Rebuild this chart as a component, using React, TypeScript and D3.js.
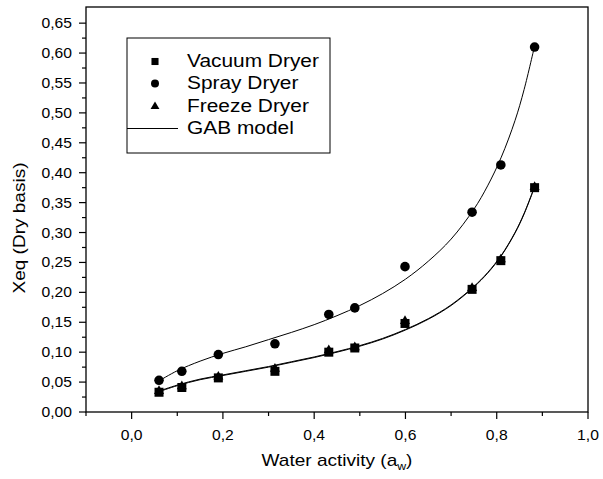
import React from "react";
import * as d3 from "d3";

// Measured data (water activity vs equilibrium moisture content)
const aw = [0.060, 0.110, 0.190, 0.314, 0.432, 0.489, 0.599, 0.746, 0.809, 0.883];
const vacuum = [0.033, 0.041, 0.057, 0.068, 0.100, 0.107, 0.148, 0.205, 0.253, 0.375];
const spray = [0.053, 0.068, 0.096, 0.114, 0.163, 0.174, 0.243, 0.334, 0.413, 0.610];
const freeze = [0.035, 0.043, 0.059, 0.072, 0.103, 0.108, 0.152, 0.207, 0.255, 0.376];

// GAB model curves
const gabAw = [0.06, 0.10, 0.15, 0.20, 0.25, 0.30, 0.35, 0.40, 0.45, 0.50, 0.55, 0.60, 0.65, 0.70, 0.75, 0.78, 0.81, 0.84, 0.86, 0.883];
const gabSpray = [0.052, 0.069, 0.085, 0.098, 0.109, 0.121, 0.133, 0.146, 0.161, 0.178, 0.198, 0.222, 0.252, 0.289, 0.339, 0.378, 0.426, 0.487, 0.539, 0.612];
const gabVacuum = [0.034, 0.044, 0.054, 0.061, 0.068, 0.075, 0.083, 0.091, 0.100, 0.110, 0.122, 0.137, 0.155, 0.178, 0.209, 0.232, 0.261, 0.299, 0.331, 0.376];
const gabFreeze = [0.035, 0.045, 0.055, 0.062, 0.069, 0.076, 0.084, 0.092, 0.101, 0.111, 0.123, 0.138, 0.156, 0.179, 0.210, 0.233, 0.262, 0.300, 0.332, 0.377];

const xMajor = [0.0, 0.2, 0.4, 0.6, 0.8, 1.0];
const xMinor = [-0.1, 0.1, 0.3, 0.5, 0.7, 0.9];
const yMajor = [0, 0.05, 0.1, 0.15, 0.2, 0.25, 0.3, 0.35, 0.4, 0.45, 0.5, 0.55, 0.6, 0.65];
const yMinor = [0.025, 0.075, 0.125, 0.175, 0.225, 0.275, 0.325, 0.375, 0.425, 0.475, 0.525, 0.575, 0.625];

const legendLabels = ["Vacuum Dryer", "Spray Dryer", "Freeze Dryer", "GAB model"];

const FONT = "'Liberation Sans', Arial, sans-serif";

function T({ x, y, size, anchor = "start", rotate = 0, sx = 1.12, children }: any) {
  const tr = `translate(${x},${y})${rotate ? ` rotate(${rotate})` : ""} scale(${sx},1)`;
  return (
    <text transform={tr} fontSize={size} fontFamily={FONT} textAnchor={anchor} fill="#000">
      {children}
    </text>
  );
}

export default function App() {
  const L = 86, R = 588, Tp = 7, B = 412;
  const x = d3.scaleLinear().domain([-0.1, 1.0]).range([L, R]);
  const y = d3.scaleLinear().domain([0, 0.677]).range([B, Tp]);
  const fmt = (v: number, d: number) => d3.format(`.${d}f`)(v).replace(".", ",");

  const line = d3
    .line<[number, number]>()
    .x((d) => x(d[0]))
    .y((d) => y(d[1]))
    .curve(d3.curveCatmullRom.alpha(0.5));

  const sq = d3.symbol().type(d3.symbolSquare).size(81)()!;
  const ci = d3.symbol().type(d3.symbolCircle).size(72)()!;
  const tr = d3.symbol().type(d3.symbolTriangle).size(44)()!;
  const sqL = d3.symbol().type(d3.symbolSquare).size(50)()!;
  const ciL = d3.symbol().type(d3.symbolCircle).size(50)()!;
  const trL = d3.symbol().type(d3.symbolTriangle).size(34)()!;

  const curves = [gabSpray, gabVacuum, gabFreeze].map((s) =>
    line(gabAw.map((a, i) => [a, s[i]] as [number, number]))
  );

  const legendRows = [67, 89, 111.5, 134];

  return (
    <svg width={603} height={479} style={{ position: "absolute", left: 0, top: 0, background: "#fff" }}>
      <rect x={0} y={0} width={603} height={479} fill="#fff" />
      {/* frame */}
      <rect x={L} y={Tp} width={R - L} height={B - Tp} fill="none" stroke="#000" strokeWidth={1.3} />
      {/* y ticks */}
      {yMajor.map((v) => (
        <g key={"ym" + v}>
          <line x1={L - 7} x2={L} y1={y(v)} y2={y(v)} stroke="#000" strokeWidth={1.2} />
          <T x={72} y={y(v) + 5} size={14} anchor="end">{fmt(v, 2)}</T>
        </g>
      ))}
      {yMinor.map((v) => (
        <line key={"yn" + v} x1={L - 4} x2={L} y1={y(v)} y2={y(v)} stroke="#000" strokeWidth={1.2} />
      ))}
      {/* x ticks */}
      {xMajor.map((v) => (
        <g key={"xm" + v}>
          <line x1={x(v)} x2={x(v)} y1={B} y2={B + 7} stroke="#000" strokeWidth={1.2} />
          <T x={x(v)} y={439.5} size={14} anchor="middle">{fmt(v, 1)}</T>
        </g>
      ))}
      {xMinor.map((v) => (
        <line key={"xn" + v} x1={x(v)} x2={x(v)} y1={B} y2={B + 4} stroke="#000" strokeWidth={1.2} />
      ))}
      {/* axis titles */}
      <T x={(L + R) / 2} y={466} size={17} anchor="middle">
        Water activity (a<tspan fontSize={11} dy={4}>w</tspan><tspan dy={-4}>)</tspan>
      </T>
      <T x={25} y={228} size={17} anchor="middle" rotate={-90}>Xeq (Dry basis)</T>

      {/* GAB curves */}
      {curves.map((d, i) => (
        <path key={"c" + i} d={d!} fill="none" stroke="#000" strokeWidth={1} />
      ))}

      {/* points */}
      {aw.map((a, i) => (
        <path key={"s" + i} d={sq} transform={`translate(${x(a)},${y(vacuum[i])})`} fill="#000" />
      ))}
      {aw.map((a, i) => (
        <path key={"t" + i} d={tr} transform={`translate(${x(a)},${y(freeze[i])})`} fill="#000" />
      ))}
      {aw.map((a, i) => (
        <path key={"c" + i} d={ci} transform={`translate(${x(a)},${y(spray[i])})`} fill="#000" />
      ))}

      {/* legend */}
      <rect x={127} y={38} width={203} height={115} fill="#fff" stroke="#000" strokeWidth={1} />
      <path d={sqL} transform={`translate(155,${legendRows[0] - 5.5})`} fill="#000" />
      <path d={ciL} transform={`translate(155,${legendRows[1] - 5.5})`} fill="#000" />
      <path d={trL} transform={`translate(155,${legendRows[2] - 5})`} fill="#000" />
      <line x1={127} x2={178} y1={legendRows[3] - 5.5} y2={legendRows[3] - 5.5} stroke="#000" strokeWidth={1} />
      {legendLabels.map((s, i) => (
        <T key={s} x={187} y={legendRows[i]} size={18.5} sx={1.13}>{s}</T>
      ))}
    </svg>
  );
}
